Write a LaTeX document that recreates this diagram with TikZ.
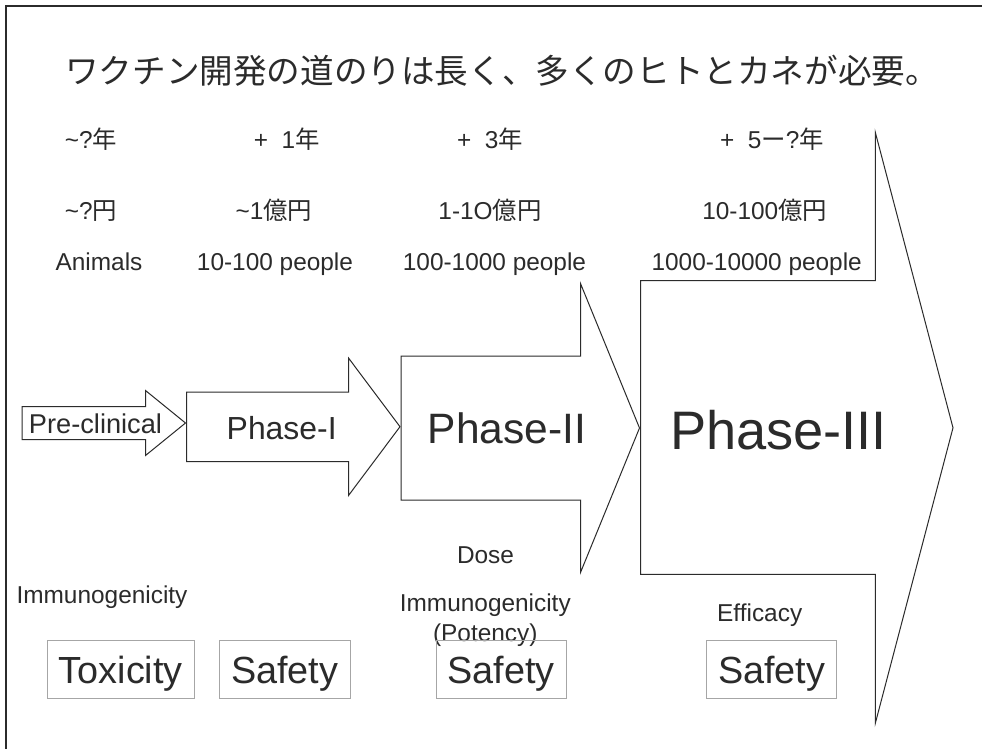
\documentclass[tikz,border=0pt]{standalone}
\usepackage{fontspec}
\setmainfont{Liberation Sans}
\newfontfamily\jp{Noto Sans CJK JP}
\definecolor{ink}{HTML}{2B2B2B}
\definecolor{boxgray}{HTML}{A6A6A6}
\begin{document}
\begin{tikzpicture}[x=1pt,y=-1pt,
  arrowshape/.style={draw=ink, line width=1pt, fill=white, line join=miter},
  lab/.style={font=\fontsize{24.4}{28}\selectfont, text=ink, inner sep=0pt, anchor=base},
  phase/.style={text=ink, inner sep=0pt, anchor=base},
  testbox/.style={draw=boxgray, line width=0.8pt, text=ink, inner xsep=0pt, inner ysep=0pt,
    text height=43pt, text depth=15.3pt, anchor=base, font=\fontsize{37.8}{40}\selectfont}]
\useasboundingbox (0,0) rectangle (982,749);
\fill[white] (0,0) rectangle (982,749);
\draw[ink, line width=2.6pt] (6,749) -- (6,6) -- (982,6);

% title
\node[text=ink, inner sep=0pt, anchor=base, font=\jp\fontsize{33.6}{38}\selectfont] (title) at (502,84)
  {ワクチン開発の道のりは長く、多くのヒトとカネが必要。};

% arrows
\draw[arrowshape] (22,406.5) -- (145.5,406.5) -- (145.5,390.5) -- (185.5,423) -- (145.5,455.5) -- (145.5,439.5) -- (22,439.5) -- cycle;
\draw[arrowshape] (186.5,392) -- (348.5,392) -- (348.5,358) -- (400,426.7) -- (348.5,495.5) -- (348.5,461.5) -- (186.5,461.5) -- cycle;
\draw[arrowshape] (401,356) -- (580.5,356) -- (580.5,283.5) -- (639.5,428) -- (580.5,572.5) -- (580.5,500) -- (401,500) -- cycle;
\draw[arrowshape] (640.5,280.5) -- (875.3,280.5) -- (875.3,132.3) -- (953,427.8) -- (875.3,723.3) -- (875.3,574.3) -- (640.5,574.3) -- cycle;

% phase labels
\node[phase, font=\fontsize{27.2}{30}\selectfont] (pre) at (95.5,433.3) {Pre-clinical};
\node[phase, font=\fontsize{31.9}{34}\selectfont] (p1) at (281.7,439) {Phase-I};
\node[phase, font=\fontsize{42.5}{45}\selectfont] (p2) at (507,443.3) {Phase-II};
\node[phase, font=\fontsize{54.2}{58}\selectfont] (p3) at (778.5,449) {Phase-III};

% years
\node[lab] (yr0) at (91,148.5) {\textasciitilde?{\jp 年}};
\node[lab] (yr1) at (286.7,148.5) {+\ \ 1{\jp 年}};
\node[lab] (yr2) at (490,148.5) {+\ \ 3{\jp 年}};
\node[lab] (yr3) at (772,148.5) {+\ \ 5{\jp ー}?{\jp 年}};
% costs
\node[lab] (c0) at (91,219.5) {\textasciitilde?{\jp 円}};
\node[lab] (c1) at (274,219.5) {\textasciitilde1{\jp 億円}};
\node[lab] (c2) at (490,219.5) {1-1O{\jp 億円}};
\node[lab] (c3) at (764.7,219.5) {10-100{\jp 億円}};
% subjects
\node[lab] (s0) at (99,270.7) {Animals};
\node[lab] (s1) at (275,270.7) {10-100 people};
\node[lab] (s2) at (494.5,270.7) {100-1000 people};
\node[lab] (s3) at (756.7,270.7) {1000-10000 people};

% lower labels
\node[lab] (dose) at (485.5,563.3) {Dose};
\node[lab] (imm0) at (102,603.5) {Immunogenicity};
\node[lab] (imm2) at (485.3,611) {Immunogenicity};
\node[lab] (pot) at (485.3,641) {(Potency)};
\node[lab] (eff) at (759.7,621.7) {Efficacy};

% boxes
\node[testbox, minimum width=147pt] (b0) at (120.8,683) {Toxicity};
\node[testbox, minimum width=131pt] (b1) at (284.8,683) {Safety};
\node[testbox, minimum width=130.7pt] (b2) at (501.3,683) {Safety};
\node[testbox, minimum width=130pt] (b3) at (771.7,683) {Safety};
\end{tikzpicture}
\end{document}
